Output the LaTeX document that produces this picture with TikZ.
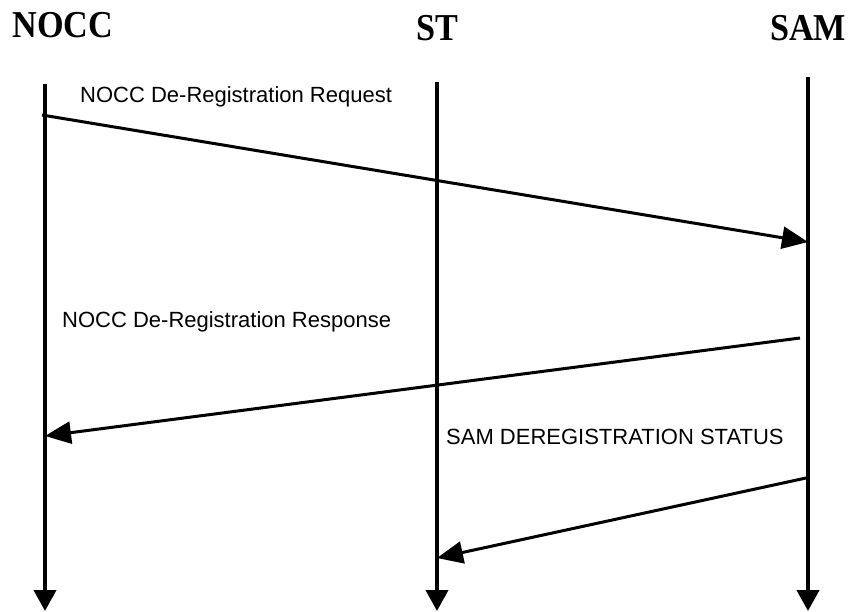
\documentclass[tikz,border=0pt]{standalone}
\usepackage{fontspec}
\setmainfont{Liberation Serif}
\newfontfamily\lblfont{Liberation Sans}
\usetikzlibrary{arrows.meta}
\newcommand{\ttlbox}[1]{\scalebox{0.9}[1]{#1}}
\begin{document}
\begin{tikzpicture}[x=1pt,y=-1pt,
  title/.style={font=\fontsize{38}{40}\selectfont\bfseries, inner sep=0pt, anchor=base},
  lbl/.style={font=\lblfont\fontsize{22}{24}\selectfont, inner sep=0pt, anchor=west},
  life/.style={line width=4pt, -{Triangle[length=21pt,width=22pt]}},
  msg/.style={line width=3pt, -{Triangle[length=26pt,width=22pt]}}]
\useasboundingbox (0,0) rectangle (852,611);
% titles
\node[title] (tn) at (63,37) {\ttlbox{NOCC}};
\node[title] (ts) at (437,40) {\ttlbox{ST}};
\node[title] (tm) at (808,40) {\ttlbox{SAM}};
% lifelines
\coordinate (n0) at (45,84);
\coordinate (n1) at (45,611);
\coordinate (s0) at (437,82);
\coordinate (s1) at (437,611);
\coordinate (m0) at (808,77);
\coordinate (m1) at (808,611);
\draw[life] (n0) -- (n1);
\draw[life] (s0) -- (s1);
\draw[life] (m0) -- (m1);
% messages
\coordinate (r1a) at (42,115);
\coordinate (r1b) at (808,242);
\draw[msg] (r1a) -- (r1b);
\node[lbl] (l1) at (80,97) {NOCC De-Registration Request};
\coordinate (r2a) at (800,338);
\coordinate (r2b) at (45,436);
\draw[msg] (r2a) -- (r2b);
\node[lbl] (l2) at (62,322) {NOCC De-Registration Response};
\coordinate (r3a) at (806,478);
\coordinate (r3b) at (437,558);
\draw[msg] (r3a) -- (r3b);
\node[lbl] (l3) at (446,437) {SAM DEREGISTRATION STATUS};
\end{tikzpicture}
\end{document}
